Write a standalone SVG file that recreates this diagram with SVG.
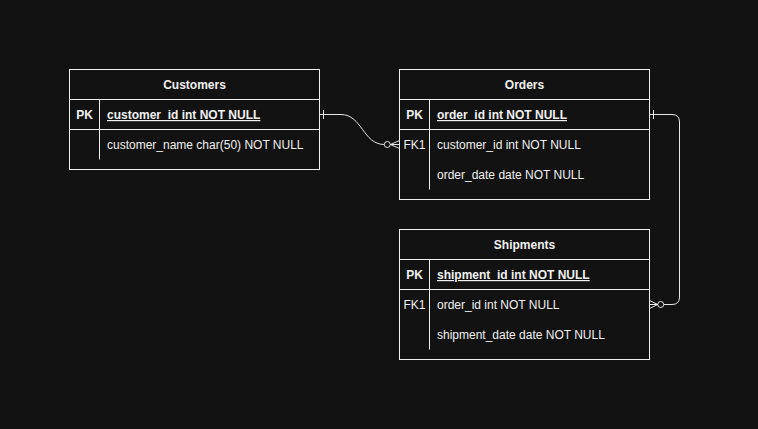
<svg xmlns="http://www.w3.org/2000/svg" width="758" height="429" viewBox="0 0 758 429">
<style>
.box{fill:#121212;stroke:#f0f0f0;stroke-width:1}
.ln{stroke:#f0f0f0;stroke-width:1;fill:none}
.t{font-family:"Liberation Sans",Arial,sans-serif;font-size:12px;fill:#f0f0f0}
.b{font-weight:bold}
.c{text-anchor:middle}
.u{text-decoration:underline}
.e{stroke:#e6e6e6;stroke-width:1;fill:none}
.ec{stroke:#e6e6e6;stroke-width:1;fill:#121212}
</style>
<rect width="758" height="429" fill="#121212"/>
<g id="customers">
<rect class="box" x="69.5" y="69.5" width="250" height="100"/>
<line class="ln" x1="69.5" y1="99.5" x2="319.5" y2="99.5"/>
<line class="ln" x1="69.5" y1="129.5" x2="319.5" y2="129.5"/>
<line class="ln" x1="99.5" y1="99.5" x2="99.5" y2="159.5"/>
<text class="t b c" x="194.5" y="89">Customers</text>
<text class="t b c" x="84.5" y="119">PK</text>
<text class="t b u" x="107" y="119">customer_id int NOT NULL</text>
<text class="t" x="107" y="149">customer_name char(50) NOT NULL</text>
</g>
<g id="orders">
<rect class="box" x="399.5" y="69.5" width="250" height="130"/>
<line class="ln" x1="399.5" y1="99.5" x2="649.5" y2="99.5"/>
<line class="ln" x1="399.5" y1="129.5" x2="649.5" y2="129.5"/>
<line class="ln" x1="429.5" y1="99.5" x2="429.5" y2="189.5"/>
<text class="t b c" x="524.5" y="89">Orders</text>
<text class="t b c" x="414.5" y="119">PK</text>
<text class="t b u" x="437" y="119">order_id int NOT NULL</text>
<text class="t c" x="414.5" y="149">FK1</text>
<text class="t" x="437" y="149">customer_id int NOT NULL</text>
<text class="t" x="437" y="179">order_date date NOT NULL</text>
</g>
<g id="shipments">
<rect class="box" x="399.5" y="229.5" width="250" height="130"/>
<line class="ln" x1="399.5" y1="259.5" x2="649.5" y2="259.5"/>
<line class="ln" x1="399.5" y1="289.5" x2="649.5" y2="289.5"/>
<line class="ln" x1="429.5" y1="259.5" x2="429.5" y2="349.5"/>
<text class="t b c" x="524.5" y="249">Shipments</text>
<text class="t b c" x="414.5" y="279">PK</text>
<text class="t b u" x="437" y="279">shipment_id int NOT NULL</text>
<text class="t c" x="414.5" y="309">FK1</text>
<text class="t" x="437" y="309">order_id int NOT NULL</text>
<text class="t" x="437" y="339">shipment_date date NOT NULL</text>
</g>
<g id="connectors">
<g id="c1">
<path class="e" d="M319.5,114.5 H341 C362,114.5 363,144.5 384.3,144.5"/>
<line class="e" x1="323.5" y1="110" x2="323.5" y2="119"/>
<circle class="ec" cx="387.3" cy="144.5" r="3"/>
<path class="e" d="M399.5,140.5 L390.5,144.5 L399.5,148.5 M390.5,144.5 H399.5"/>
</g>
<g id="c2">
<path class="e" d="M649.5,114.5 H672 Q679.5,114.5 679.5,122 V297 Q679.5,304.5 672,304.5 H663.7"/>
<line class="e" x1="653.5" y1="110" x2="653.5" y2="119"/>
<circle class="ec" cx="660.7" cy="304.5" r="3"/>
<path class="e" d="M649.5,300.5 L657.7,304.5 L649.5,308.5 M649.5,304.5 H657.7"/>
</g>
</g>
</svg>
